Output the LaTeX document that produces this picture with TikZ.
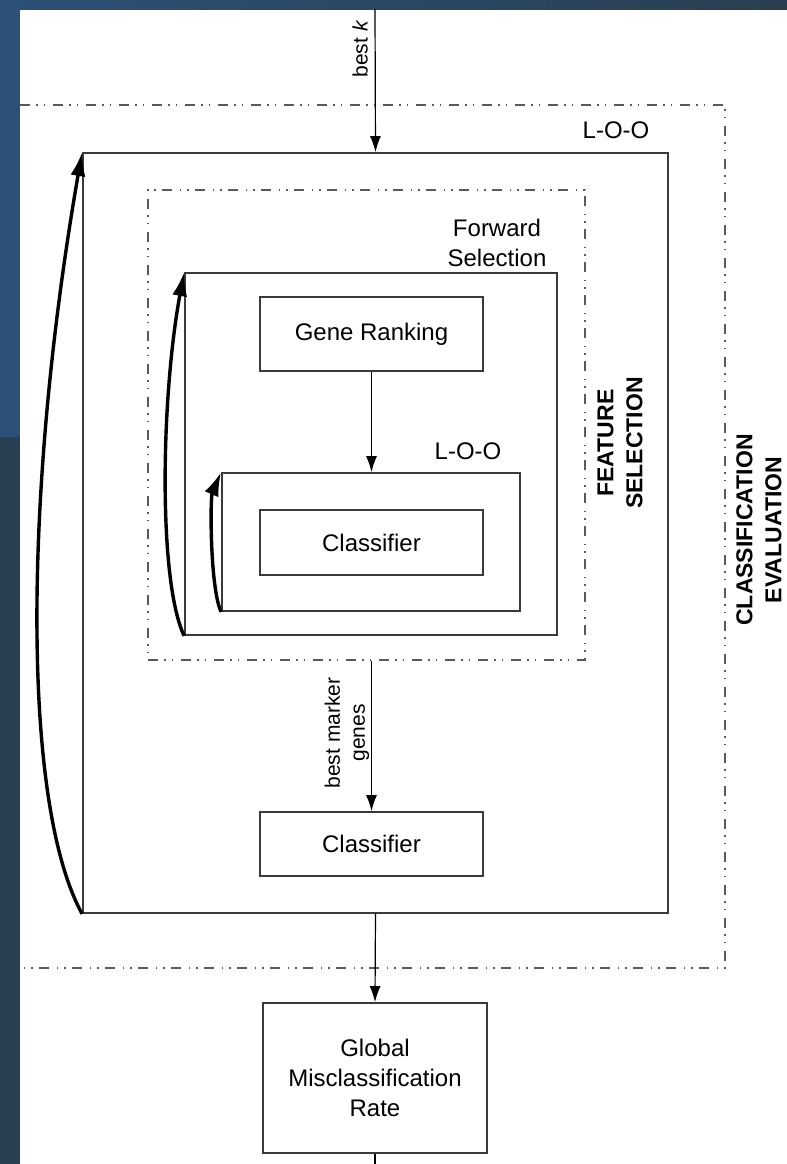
\documentclass[tikz,border=0pt]{standalone}
\usepackage{fontspec}
\setmainfont{Liberation Sans}
\usetikzlibrary{arrows.meta}
\definecolor{slideblue}{HTML}{2B5177}
\definecolor{slidedark}{HTML}{2A3F51}
\definecolor{boxline}{HTML}{3A3A3A}
\definecolor{dashline}{HTML}{5A5A5A}
\tikzset{
  box/.style={draw=boxline, line width=0.9pt, inner sep=0pt, align=center,
    font=\fontsize{12}{15}\selectfont},
  frame/.style={draw=boxline, line width=0.9pt, inner sep=0pt},
  dashframe/.style={draw=dashline, line width=0.6pt, inner sep=0pt,
    dash pattern=on 5pt off 3pt on 0.8pt off 3pt on 0.8pt off 3.9pt},
  flow/.style={-{Latex[length=8pt,width=5.5pt]}, line width=0.6pt},
  loopback/.style={-{Latex[length=12pt,width=7.5pt]}, line width=1.7pt},
  tag/.style={font=\fontsize{12}{15}\selectfont, align=center},
  edgetag/.style={font=\fontsize{10.5}{12.5}\selectfont, rotate=90, align=center},
  sidetag/.style={font=\bfseries\fontsize{11.5}{14.5}\selectfont, rotate=90, align=center}
}
\begin{document}
\begin{tikzpicture}[x=0.5pt, y=-0.5pt]
\useasboundingbox (0,0) rectangle (787,1164);
%slide edge
\shade[left color=slideblue, right color=slidedark] (0,0) rectangle (787,9);
\fill[slideblue] (0,0) rectangle (20,437);
\fill[slidedark] (0,437) rectangle (20,1164);

%classification evaluation frame
\coordinate (ce1) at (20,105);
\coordinate (ce2) at (725,105);
\coordinate (ce3) at (725,968);
\coordinate (ce4) at (20,968);
\draw[dashframe] (ce1) -- (ce2) -- (ce3) -- (ce4);
\node[sidetag] (cetag) at (759,530) {CLASSIFICATION\\EVALUATION};

%outer l-o-o
\node[frame, minimum width=292.5pt, minimum height=380pt] (loo) at (375.5,533) {};
\node[tag] (lootag) at (616,130) {L-O-O};

%feature selection frame
\node[dashframe, minimum width=218.5pt, minimum height=235pt] (fsel) at (366.5,425) {};
\node[sidetag] (fseltag) at (620,443) {FEATURE\\SELECTION};
\node[tag] (fwdtag) at (497,243) {Forward\\Selection};
\node[frame, minimum width=186pt, minimum height=181pt] (fwd) at (371,454) {};

\node[box, minimum width=111.5pt, minimum height=37pt] (rank) at (371.5,334) {Gene Ranking};

%inner l-o-o
\node[frame, minimum width=149pt, minimum height=69pt] (iloo) at (371,542) {};
\node[tag] (iloatag) at (468,451) {L-O-O};
\node[box, minimum width=111.5pt, minimum height=32.5pt] (clfin) at (371.5,542.5) {Classifier};

\node[box, minimum width=111.5pt, minimum height=32pt] (clfout) at (371.5,844) {Classifier};
\node[box, minimum width=112pt, minimum height=75pt] (gmr) at (375,1078) {Global\\Misclassification\\Rate};

%connectors
\coordinate (kin) at (375,9);
\coordinate (gout) at (375,1164);
\draw[flow] (kin) -- (loo.north);
\node[edgetag] (ktag) at (360,49) {best \textit{k}};
\draw[flow] (rank.south) -- (rank.south |- iloo.north);
\draw[flow] (clfout.north |- fsel.south) -- (clfout.north);
\node[edgetag] (mgtag) at (347,733) {best marker\\genes};
\draw[flow] (loo.south) -- (gmr.north);
\draw[line width=0.6pt] (gmr.south) -- (gout);

%loops
\draw[loopback] (loo.south west) .. controls (20,800) and (25,480) .. (loo.north west);
\draw[loopback] (fwd.south west) .. controls (158,580) and (161,397) .. (fwd.north west);
\draw[loopback] (iloo.south west) .. controls (210,588) and (210,498) .. (iloo.north west);
\end{tikzpicture}
\end{document}
